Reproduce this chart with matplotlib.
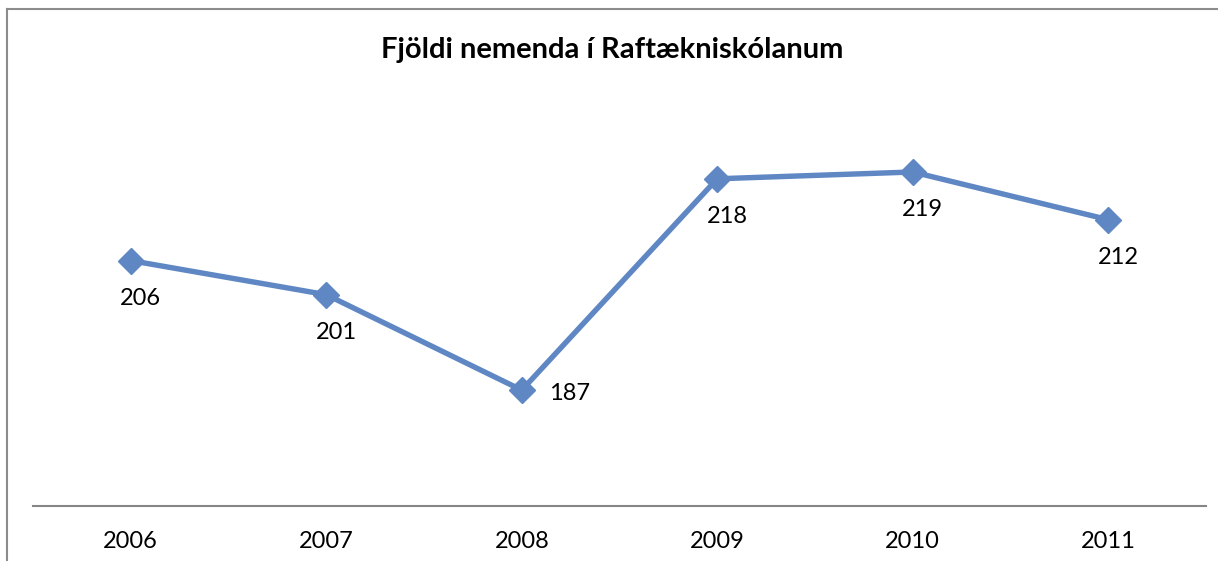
import matplotlib
matplotlib.use('Agg')
import matplotlib.pyplot as plt
from matplotlib.lines import Line2D

years = ['2006', '2007', '2008', '2009', '2010', '2011']
students = [206, 201, 187, 218, 219, 212]
label_side = ['below', 'below', 'right', 'below', 'below', 'below']

title = 'Fjöldi nemenda í Raftækniskólanum'

plt.rcParams['font.family'] = ['Lato', 'DejaVu Sans']

fig = plt.figure(figsize=(12.18, 5.61), dpi=100)
ax = fig.add_axes([33 / 1218, 55 / 561, 1173 / 1218, 409 / 561])

x = list(range(len(years)))
ax.plot(x, students, color='#5f87c4', lw=3.9, marker='D', markersize=13,
        solid_joinstyle='miter')

for xi, v, side in zip(x, students, label_side):
    if side == 'right':
        off, ha, va = (27, -3), 'left', 'center'
    else:
        off, ha, va = (10, -27), 'center', 'top'
    ax.annotate(str(v), (xi, v), xytext=off, textcoords='offset pixels',
                ha=ha, va=va, fontsize=17, color='black')

ax.set_xlim(-0.5, len(years) - 0.5)
ax.set_ylim(170, 230)
ax.set_xticks(x)
ax.set_xticklabels(years, fontsize=17)
ax.tick_params(axis='x', length=0, pad=18)
ax.set_yticks([])
for s in ['top', 'left', 'right']:
    ax.spines[s].set_visible(False)
ax.spines['bottom'].set_color('#868686')
ax.spines['bottom'].set_linewidth(1.5)

fig.text(612 / 1218, 1 - 50 / 561, title, ha='center', va='center',
         fontsize=21, fontweight='bold')

# chart frame (left and top edges only visible)
fig.add_artist(Line2D([7 / 1218, 7 / 1218], [0, 1 - 9 / 561],
                      color='#8c8c8c', lw=1.5, transform=fig.transFigure))
fig.add_artist(Line2D([7 / 1218, 1], [1 - 9 / 561, 1 - 9 / 561],
                      color='#8c8c8c', lw=1.5, transform=fig.transFigure))

fig.savefig('out.png', dpi=100)
